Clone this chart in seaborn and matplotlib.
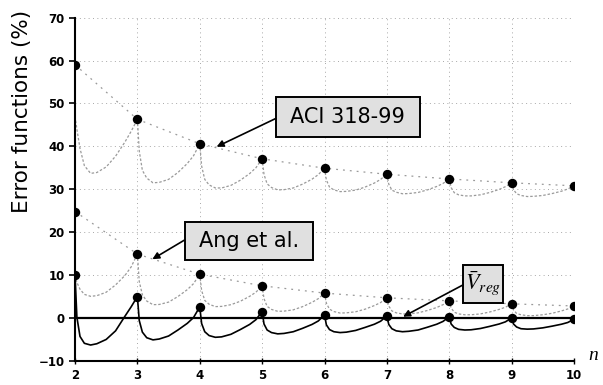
import matplotlib
matplotlib.use("Agg")
import matplotlib.pyplot as plt
from matplotlib.patches import Rectangle
import pandas as pd
import seaborn as sns

# ---- data -------------------------------------------------------------
n_values = list(range(2, 11))

# values at the integer n (dots)
aci_points = [59.0, 46.3, 40.6, 37.1, 34.9, 33.5, 32.4, 31.5, 30.8]
ang_points = [24.8, 14.9, 10.2, 7.5, 5.8, 4.7, 4.0, 3.3, 2.8]
vreg_points = [10.0, 5.0, 2.6, 1.5, 0.7, 0.5, 0.3, 0.0, -0.3]

# fractional offsets inside each interval [n, n+1) where the curves are sampled
t_offsets = [0, 0.03, 0.08, 0.15, 0.25, 0.35, 0.5, 0.65, 0.8, 0.9]

# continuous error curves, one row per interval n -> n+1
aci_curves = [
    [47.0, 44.0, 39.5, 35.5, 33.7, 33.9, 35.2, 37.7, 41.0, 43.5],
    [46.3, 38.9, 34.4, 32.6, 31.5, 31.6, 32.3, 33.9, 36.0, 37.8],
    [40.6, 35.4, 32.3, 31.0, 30.3, 30.3, 30.9, 32.1, 33.65, 35.0],
    [37.1, 33.45, 31.25, 30.4, 29.85, 29.9, 30.3, 31.2, 32.35, 33.4],
    [34.9, 32.15, 30.5, 29.85, 29.45, 29.5, 29.8, 30.5, 31.45, 32.3],
    [33.5, 31.2, 29.8, 29.3, 28.95, 29.0, 29.25, 29.85, 30.65, 31.35],
    [32.4, 30.4, 29.2, 28.7, 28.45, 28.45, 28.7, 29.25, 29.95, 30.6],
    [31.5, 29.9, 28.95, 28.55, 28.3, 28.35, 28.55, 29.0, 29.55, 30.05],
]
ang_curves = [
    [10.0, 8.3, 6.7, 5.5, 5.05, 5.2, 6.0, 7.7, 9.9, 11.9],
    [14.9, 8.5, 5.4, 3.95, 3.1, 3.15, 3.7, 5.0, 6.6, 8.0],
    [10.2, 6.4, 4.1, 3.2, 2.65, 2.7, 3.1, 3.9, 5.05, 6.0],
    [7.5, 4.5, 2.7, 2.0, 1.55, 1.6, 1.9, 2.65, 3.65, 4.5],
    [5.8, 3.45, 2.05, 1.5, 1.15, 1.2, 1.45, 2.05, 2.9, 3.6],
    [4.7, 2.8, 1.65, 1.2, 0.95, 0.95, 1.2, 1.75, 2.45, 3.1],
    [4.0, 2.35, 1.35, 0.95, 0.75, 0.75, 0.95, 1.4, 2.0, 2.5],
    [3.3, 1.9, 1.05, 0.75, 0.55, 0.55, 0.75, 1.1, 1.65, 2.1],
]
vreg_curves = [
    [10.0, 0.2, -4.3, -5.9, -6.3, -6.0, -5.0, -3.0, 0.4, 2.6],
    [5.0, -0.6, -3.3, -4.6, -5.1, -4.9, -4.2, -2.8, -1.25, 0.1],
    [2.6, -1.3, -3.2, -4.1, -4.5, -4.4, -3.8, -2.7, -1.5, -0.4],
    [1.5, -1.4, -2.8, -3.4, -3.7, -3.6, -3.2, -2.4, -1.5, -0.7],
    [0.7, -1.6, -2.7, -3.2, -3.4, -3.3, -2.9, -2.2, -1.45, -0.75],
    [0.5, -1.5, -2.5, -3.0, -3.2, -3.1, -2.8, -2.15, -1.45, -0.8],
    [0.3, -1.4, -2.2, -2.65, -2.8, -2.75, -2.45, -1.95, -1.4, -0.9],
    [0.0, -1.4, -2.1, -2.5, -2.6, -2.55, -2.3, -1.9, -1.45, -1.05],
]

labels = ["ACI 318-99", "Ang et al."]


def curve_frame(curves, points):
    rows = []
    for i, vals in enumerate(curves):
        n = n_values[i]
        for t, v in zip(t_offsets, vals):
            rows.append((n, n + t, v))
        rows.append((n, n + 1, points[i + 1]))
    return pd.DataFrame(rows, columns=["segment", "n", "error"])


def point_frame(points):
    return pd.DataFrame({"n": n_values, "error": points})


# ---- figure -----------------------------------------------------------
sns.set_style("white")
plt.rcParams["font.family"] = ["DejaVu Sans"]
plt.rcParams.update({"text.color": "black", "xtick.color": "black",
                     "ytick.color": "black", "axes.labelcolor": "black"})

fig = plt.figure(figsize=(6.03, 3.85), dpi=100)
ax = fig.add_axes([0.1244, 0.0626, 0.8275, 0.8917])

ax.grid(True, color="#a8a8a8", lw=0.7, linestyle=(0, (1, 3.5)), zorder=0)

grey = "#9a9a9a"
for curves, points in ((aci_curves, aci_points), (ang_curves, ang_points)):
    sns.lineplot(data=curve_frame(curves, points), x="n", y="error",
                 units="segment", estimator=None, sort=False, ax=ax,
                 color=grey, lw=0.9, linestyle=(0, (2, 1.5)), legend=False,
                 zorder=2)
    sns.lineplot(data=point_frame(points), x="n", y="error", ax=ax,
                 color=grey, lw=0.9, linestyle=(0, (1.5, 4)), legend=False,
                 zorder=2)

sns.lineplot(data=curve_frame(vreg_curves, vreg_points), x="n", y="error",
             units="segment", estimator=None, sort=False, ax=ax,
             color="black", lw=1.2, legend=False, zorder=3)

ax.axhline(0, color="black", lw=1.6, zorder=2.5)

for points in (aci_points, ang_points, vreg_points):
    sns.scatterplot(data=point_frame(points), x="n", y="error", ax=ax,
                    color="black", s=46, edgecolor="black", linewidth=0,
                    legend=False, zorder=5)

# ---- axes -------------------------------------------------------------
ax.set_xlim(2, 10)
ax.set_ylim(-10, 70)
ax.set_xticks(n_values)
ax.set_yticks(range(-10, 71, 10))
ax.set_xlabel("")
ax.set_ylabel("")
for side in ("top", "right"):
    ax.spines[side].set_visible(False)
for side in ("left", "bottom"):
    ax.spines[side].set_linewidth(1.5)
    ax.spines[side].set_color("black")
ax.tick_params(axis="y", direction="out", length=4, width=1.2, pad=3.5,
               labelsize=8.5, left=True, colors="black")
ax.tick_params(axis="x", direction="inout", length=5, width=1.0, pad=3,
               labelsize=8.5, bottom=True, colors="black")
for lab in ax.get_xticklabels() + ax.get_yticklabels():
    lab.set_fontweight("bold")

fig.text(22 / 603, 1 - 111 / 385, "Error functions (%)", rotation=90,
         ha="center", va="center", fontsize=15.5, color="black")
ax.text(10.3, -8.8, "n", fontsize=14, style="italic",
        family="Liberation Serif", ha="center", va="center", clip_on=False)

# ---- callouts ---------------------------------------------------------
box_kw = dict(facecolor="#e0e0e0", edgecolor="black", lw=1.4, zorder=6)
arrow_kw = dict(arrowstyle="-|>", color="black", lw=1.2,
                mutation_scale=10, shrinkA=0, shrinkB=0)

ax.add_patch(Rectangle((5.22, 42.2), 2.31, 9.3, **box_kw))
ax.text(6.375, 46.85, labels[0], fontsize=15, ha="center", va="center",
        color="black", zorder=7)
ax.annotate("", xy=(4.27, 39.9), xytext=(5.22, 46.5), arrowprops=arrow_kw,
            zorder=7)

ax.add_patch(Rectangle((3.76, 13.5), 2.05, 8.9, **box_kw))
ax.text(4.785, 17.95, labels[1], fontsize=15, ha="center", va="center",
        color="black", zorder=7)
ax.annotate("", xy=(3.24, 13.7), xytext=(3.76, 18.2), arrowprops=arrow_kw,
            zorder=7)

ax.add_patch(Rectangle((8.22, 3.5), 0.64, 8.9, **box_kw))
ax.text(8.54, 7.95, r"$\bar{V}_{\mathbf{\mathit{reg}}}$", fontsize=16,
        math_fontfamily="stix", ha="center", va="center", color="black",
        zorder=7)
ax.annotate("", xy=(7.26, 0.3), xytext=(8.22, 7.7), arrowprops=arrow_kw,
            zorder=7)

fig.savefig("out.png", dpi=100)
